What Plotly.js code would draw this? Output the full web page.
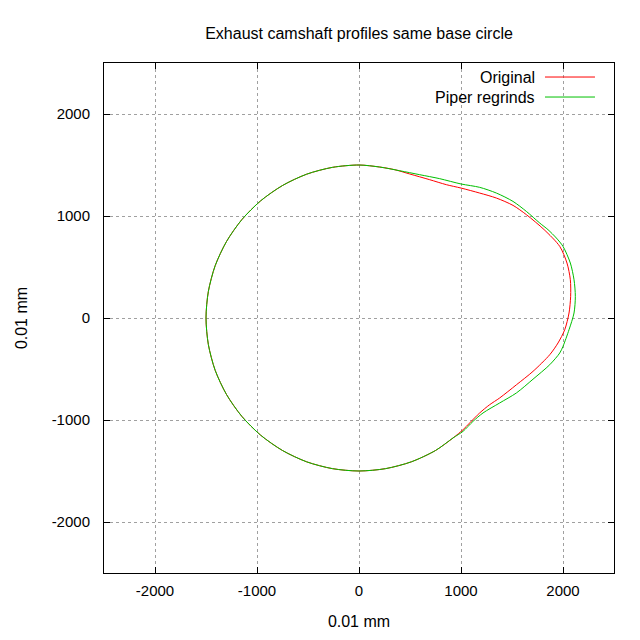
<!DOCTYPE html>
<html>
<head>
<meta charset="utf-8">
<script src="https://cdn.plot.ly/plotly-3.0.1.min.js"></script>
<style>html,body{margin:0;padding:0;background:#fff;}</style>
</head>
<body>
<div id="chart" style="width:640px;height:640px;"></div>
<script>
// Shared base circle, from top going left around to lower right
var baseX = [0, -260, -513, -750, -964, -1149, -1299, -1410, -1477, -1500, -1477, -1410, -1299, -1149, -964, -750, -513, -260, 0, 260, 513, 750];
var baseY = [1500, 1477, 1410, 1299, 1149, 964, 750, 513, 260, 0, -260, -513, -750, -964, -1149, -1299, -1410, -1477, -1500, -1477, -1410, -1299];

// Original profile lobe (lower right -> top)
var origLobeX = [922, 1020, 1085, 1183, 1281, 1379, 1543, 1706, 1870, 1951, 2017, 2059, 2075, 2072, 2039, 1968, 1815, 1641, 1510, 1347, 1183, 1000, 857, 693, 497, 350, 203, 0];
var origLobeY = [-1176, -1095, -1029, -931, -850, -784, -655, -523, -360, -245, -115, 49, 212, 375, 539, 702, 866, 1013, 1104, 1176, 1225, 1274, 1307, 1356, 1412, 1454, 1480, 1500];

// Piper regrinds lobe (lower right -> top)
var piperLobeX = [922, 1020, 1118, 1216, 1379, 1543, 1706, 1870, 1968, 2000, 2059, 2108, 2121, 2108, 2072, 2000, 1935, 1853, 1772, 1641, 1510, 1347, 1183, 1000, 791, 595, 399, 203, 0];
var piperLobeY = [-1176, -1111, -1013, -931, -833, -735, -600, -458, -343, -278, -115, 49, 212, 375, 539, 702, 784, 866, 931, 1045, 1143, 1225, 1281, 1314, 1366, 1405, 1444, 1480, 1500];

var seriesNames = ["Original", "Piper regrinds"];
var seriesColors = ["#ff0000", "#00c000"];
var tickValues = [-2000, -1000, 0, 1000, 2000];

var family = "Liberation Sans, Arial, sans-serif";
var font = {family: family, size: 16, color: "#000"};
var tickFont = {family: family, size: 15, color: "#000"};

var traces = [
  {x: baseX.concat(origLobeX), y: baseY.concat(origLobeY), name: seriesNames[0], mode: "lines",
   line: {color: seriesColors[0], width: 1, shape: "spline", smoothing: 0.8}},
  {x: baseX.concat(piperLobeX), y: baseY.concat(piperLobeY), name: seriesNames[1], mode: "lines",
   line: {color: seriesColors[1], width: 1, shape: "spline", smoothing: 0.8}}
];

function axis(titleText, standoff, labelStandoff) {
  return {
    range: [-2500, 2500], tickvals: tickValues, ticktext: tickValues.map(String),
    ticks: "inside", ticklen: 6, tickcolor: "#000", tickwidth: 1,
    showline: true, linecolor: "#000", linewidth: 1, mirror: "ticks",
    showgrid: true, gridcolor: "#a0a0a0", griddash: "dot", gridwidth: 1,
    zeroline: false, tickfont: tickFont, automargin: false, ticklabelstandoff: labelStandoff,
    title: {text: titleText, font: font, standoff: standoff}
  };
}

var legY = [0.9725, 0.9333];
var annotations = seriesNames.map(function (n, i) {
  return {text: n, xref: "paper", yref: "paper", x: 0.849, y: legY[i], xanchor: "right", yanchor: "middle",
          showarrow: false, font: font};
});
var shapes = seriesNames.map(function (n, i) {
  return {type: "line", xref: "paper", yref: "paper", x0: 0.8647, x1: 0.9627, y0: legY[i], y1: legY[i],
          line: {color: seriesColors[i], width: 1}};
});

var layout = {
  width: 640, height: 640,
  margin: {l: 104, r: 26, t: 63, b: 67},
  paper_bgcolor: "#fff", plot_bgcolor: "#fff",
  font: font,
  title: {text: "Exhaust camshaft profiles same base circle", font: font, x: 0.5, xref: "paper",
          y: 1 - 33 / 640, yref: "container", yanchor: "middle"},
  xaxis: axis("0.01 mm", 17, 4),
  yaxis: axis("0.01 mm", 20, 10),
  showlegend: false,
  annotations: annotations,
  shapes: shapes
};

Plotly.newPlot("chart", traces, layout, {displayModeBar: false, staticPlot: true});
</script>
</body>
</html>
